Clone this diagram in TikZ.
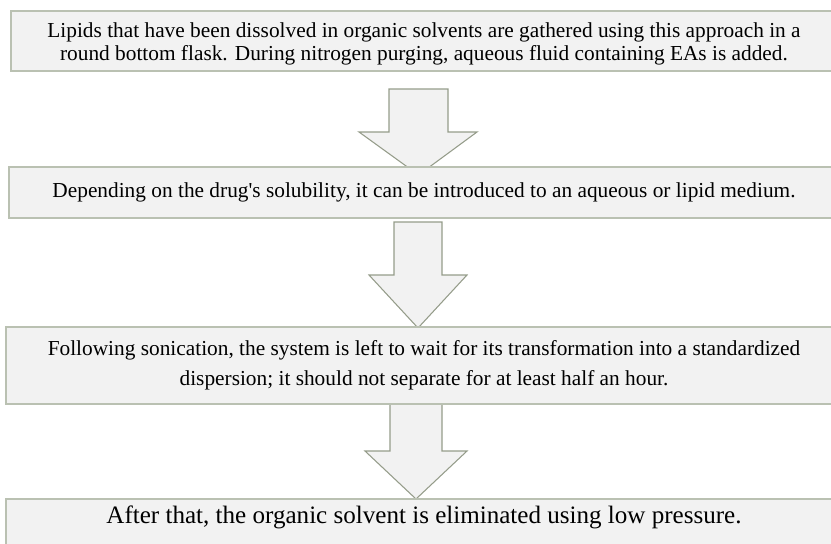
\documentclass[tikz,border=0pt]{standalone}
\usepackage{fontspec}
\newfontfamily\stepfont{Liberation Serif}
\usetikzlibrary{calc}
\usetikzlibrary{backgrounds}

\definecolor{boxfill}{HTML}{F2F2F2}
\definecolor{boxline}{HTML}{BAC1B2}
\definecolor{arrowline}{HTML}{959C8A}

\tikzset{
  stepbox/.style={draw=boxline, line width=1.5pt, fill=boxfill, align=center,
    inner sep=0pt, font=\stepfont\fontsize{16}{16.3}\selectfont},
  blockarrow/.style={draw=arrowline, line width=0.8pt, fill=boxfill, line join=miter},
}

\begin{document}
\begin{tikzpicture}[x=0.75pt,y=-0.75pt]
                    \useasboundingbox (0,0) rectangle (831,543);
                    \clip (0,0) rectangle (831,543);

                    % steps
                    \node[stepbox, minimum width=826*0.75pt, minimum height=60*0.75pt] (b1) at (424,41)
                      {\rule{0pt}{15pt}Lipids that have been dissolved in organic solvents are gathered using this approach in a\\[1.2pt]
                       round bottom flask. During nitrogen purging, aqueous fluid containing EAs is added.};
                    \node[stepbox, minimum width=830*0.75pt, minimum height=51*0.75pt] (b2) at (424,192.5)
                      {Depending on the drug's solubility, it can be introduced to an aqueous or lipid medium.};
                    \node[stepbox, minimum width=836*0.75pt, minimum height=77*0.75pt] (b3) at (424,365.5)
                      {Following sonication, the system is left to wait for its transformation into a standardized\\[6.5pt]
                       dispersion; it should not separate for at least half an hour.};
                    \node[stepbox, minimum width=836*0.75pt, anchor=north, inner ysep=6pt,
                      text height=12.5pt, text depth=25pt, font=\stepfont\fontsize{18.8}{20}\selectfont] (b4) at (424,498)
                      {After that, the organic solvent is eliminated using low pressure.};

                    % arrows
                    \begin{scope}[on background layer]
                      \draw[blockarrow] ($(b1.south)+(-35,17)$) -- ++(0,43) -- ++(-30,0)
                        -- ++(59.5,43) -- ++(58.5,-43) -- ++(-29,0) -- ++(0,-43) -- cycle;
                      \draw[blockarrow] ($(b2.south)+(-30,3)$) -- ++(0,53) -- ++(-25,0)
                        -- ++(49,53) -- ++(49,-53) -- ++(-25,0) -- ++(0,-53) -- cycle;
                      \draw[blockarrow] ($(b3.south)+(-34,-1)$) -- ++(0,47) -- ++(-25,0)
                        -- ++(51,48) -- ++(51,-48) -- ++(-25,0) -- ++(0,-47) -- cycle;
                    \end{scope}
\end{tikzpicture}
\end{document}
